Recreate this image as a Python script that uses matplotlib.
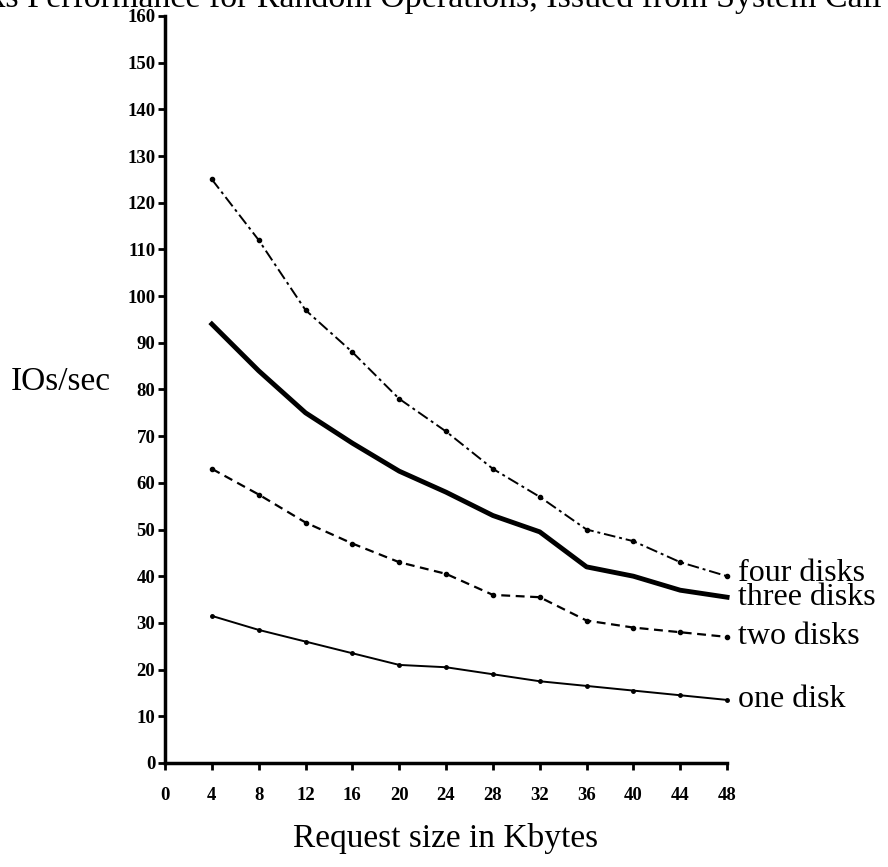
import numpy as np
import matplotlib.pyplot as plt

# Donnees
taille = [4, 8, 12, 16, 20, 24, 28, 32, 36, 40, 44, 48]
quatre_disques = [125, 112, 97, 88, 78, 71, 63, 57, 50, 47.5, 43, 40]
trois_disques = [94, 84, 75, 68.5, 62.5, 58, 53, 49.5, 42, 40, 37, 35.5]
deux_disques = [63, 57.5, 51.5, 47, 43, 40.5, 36, 35.5, 30.5, 29, 28, 27]
un_disque = [31.5, 28.5, 26, 23.5, 21, 20.5, 19, 17.5, 16.5, 15.5, 14.5, 13.5]
noms = ["four disks", "three disks", "two disks", "one disk"]
x_ticks = list(range(0, 49, 4))
y_ticks = list(range(0, 161, 10))

plt.rcParams['font.family'] = ['Liberation Serif', 'DejaVu Serif']

fig = plt.figure(figsize=(8.88, 8.67), dpi=100)
ax = fig.add_axes([0.1858, 0.12, 0.633, 0.8616])

ax.plot(taille, quatre_disques, color='black', lw=1.4, ls=(0, (6, 2, 1.5, 2)),
        marker='o', ms=3, clip_on=False)
ax.plot(taille, trois_disques, color='black', lw=3.5, clip_on=False)
ax.plot(taille, deux_disques, color='black', lw=1.6, ls=(0, (4, 2.5)),
        marker='o', ms=3, clip_on=False)
ax.plot(taille, un_disque, color='black', lw=1.4, marker='o', ms=2.5, clip_on=False)

# Etiquettes au bout des courbes
decalage = [0.5, 0.0, 0, 0]
for nom, serie, d in zip(noms, [quatre_disques, trois_disques, deux_disques, un_disque], decalage):
    ax.text(48.9, serie[-1] + d, nom, fontsize=23, va='center', ha='left')

ax.set_xlim(0, 48)
ax.set_ylim(0, 160)
ax.set_xticks(x_ticks)
ax.set_yticks(y_ticks)
for s in ['top', 'right']:
    ax.spines[s].set_visible(False)
for s in ['left', 'bottom']:
    ax.spines[s].set_linewidth(2.5)
ax.tick_params(axis='both', width=2, length=5, labelsize=13.5)
ax.tick_params(axis='x', pad=12)
ax.tick_params(axis='y', pad=2)
for lab in ax.get_xticklabels() + ax.get_yticklabels():
    lab.set_fontweight('bold')

ax.set_xlabel("Request size in Kbytes", fontsize=24, labelpad=14)
ax.set_ylabel("IOs/sec", fontsize=24, rotation=0, ha='right', va='center')
ax.yaxis.set_label_coords(-0.096, 0.51)

fig.text(0.993, 1.02, "Disks Performance for Random Operations, Issued from System Call",
         fontsize=24.5, ha='right', va='top')

fig.savefig("out.png", dpi=100)
